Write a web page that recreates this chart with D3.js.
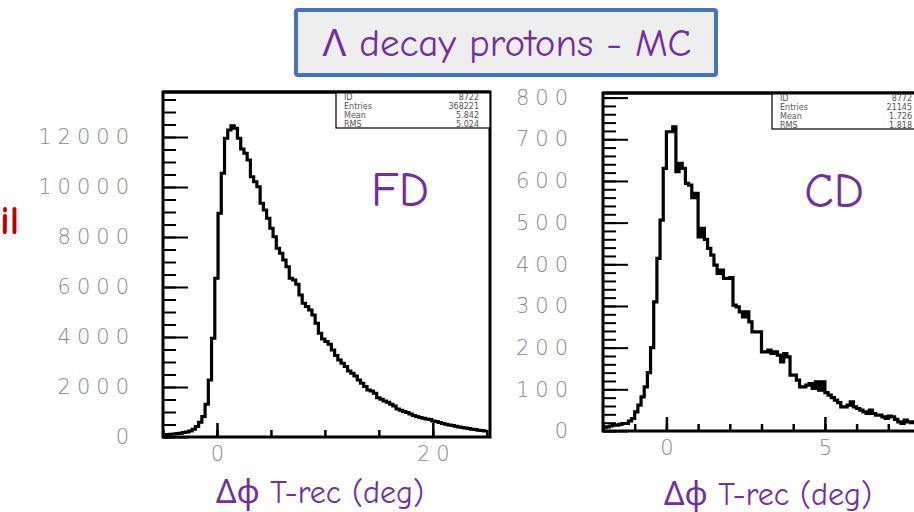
<!DOCTYPE html>
<html><head><meta charset="utf-8">
<script src="https://cdn.jsdelivr.net/npm/d3@7"></script>
<style>
html,body{margin:0;padding:0;background:#fff;}
svg{display:block;}
</style></head>
<body>
<svg id="c" width="914" height="512"></svg>
<script>
// ---------- data ----------
const title = "\u039B decay protons - MC";
const xTitle = "\u0394\u03D5 T-rec (deg)";
const sideText = "il";

// FD histogram: 100 bins from -5 to 25
const fdRange = [-5, 25];
const fdCounts = [80,100,110,120,140,150,180,200,240,310,
  420,590,820,1310,2280,3950,6350,8950,10550,11950,
  12280,12450,12350,11950,11520,11350,11080,10410,10210,10010,
  9350,9080,8750,8350,8010,7550,7350,7080,6810,6350,
  6280,6110,5680,5350,5220,5080,4880,4550,4150,3920,
  3820,3710,3480,3260,3080,2950,2820,2640,2550,2440,
  2280,2150,2020,1880,1840,1750,1570,1510,1440,1390,
  1310,1240,1120,1070,1020,980,920,860,820,780,
  750,720,700,640,620,580,540,510,480,460,
  430,400,380,360,340,310,300,270,260,240];
const fdYTicks = [0,2000,4000,6000,8000,10000,12000];
const fdXTicks = [0,20];
const fdStats = [["ID","8722"],["Entries","368221"],["Mean","5.842"],["RMS","5.024"]];

// CD histogram: 100 bins from -2 to 8
const cdRange = [-2, 8];
const cdCounts = [8,10,12,14,14,16,18,18,24,30,
  46,62,82,106,140,200,310,414,506,630,
  718,718,730,622,642,630,594,590,560,570,
  466,486,460,438,422,398,378,386,366,366,
  368,302,298,286,274,286,262,238,238,238,
  190,190,194,186,190,182,166,186,178,134,
  134,122,106,106,110,114,102,118,98,118,
  92,86,80,74,68,58,58,62,70,58,
  54,50,46,42,50,42,38,38,34,30,
  36,34,28,22,18,26,22,20,22,20];
const cdYTicks = [0,100,200,300,400,500,600,700,800];
const cdXTicks = [0,5];
const cdStats = [["ID","8772"],["Entries","21145"],["Mean","1.726"],["RMS","1.818"]];

const panelLabels = ["FD","CD"];

// ---------- drawing ----------
const svg = d3.select("#c");
const purple = "#7030A0";
const handFont = "'Comic Sans MS','Comic Neue','Noto Sans',sans-serif";
const tickFont = "'DejaVu Sans',sans-serif";
const LS = 6; // letter spacing of tick labels

// title box
svg.append("rect").attr("x",296).attr("y",10).attr("width",420).attr("height",65)
  .attr("fill","#eeeeee").attr("stroke","#4472C4").attr("stroke-width",4).attr("rx",2);
svg.append("text").attr("x",507).attr("y",56).attr("text-anchor","middle")
  .attr("font-family",handFont).attr("font-size",39).attr("fill",purple).text(title);

// red cut-off text at left
svg.append("text").attr("x",0).attr("y",234).attr("text-anchor","start")
  .attr("font-family",handFont).attr("font-size",40).attr("font-weight","bold")
  .attr("fill","#C00000").text(sideText);

function panel(cfg){
  const {counts, range, xDom, xPix, yDom, yPix, yTicks, yMinorStep, xTicks, xMinorStep,
         stats, statBox, label, labelPos, titlePos, xLabelY, yLabelRight, clipId} = cfg;
  const x = d3.scaleLinear().domain(xDom).range(xPix);
  const y = d3.scaleLinear().domain(yDom).range(yPix);
  const g = svg.append("g");
  const left = xPix[0], right = xPix[1], top = yPix[1], bottom = yPix[0];

  g.append("clipPath").attr("id",clipId).append("rect")
    .attr("x",left).attr("y",top).attr("width",right-left).attr("height",bottom-top);

  // histogram
  const nb = counts.length, bw = (range[1]-range[0])/nb;
  const pts = counts.map((c,i)=>[range[0]+i*bw, c]);
  pts.push([range[1], counts[nb-1]]);
  const line = d3.line().x(d=>x(d[0])).y(d=>y(d[1])).curve(d3.curveStepAfter);
  g.append("path").attr("d",line(pts)).attr("fill","none").attr("stroke","#000")
    .attr("stroke-width",3.2).attr("clip-path",`url(#${clipId})`);

  // y axis ticks
  const yMinor = d3.range(yDom[0], yDom[1], yMinorStep);
  g.append("g").attr("transform",`translate(${left},0)`)
    .call(d3.axisRight(y).tickValues(yMinor).tickSize(13).tickFormat(""))
    .call(s=>{s.select(".domain").remove(); s.selectAll("line").attr("stroke","#000").attr("stroke-width",2);});
  g.append("g").attr("transform",`translate(${left},0)`)
    .call(d3.axisRight(y).tickValues(yTicks).tickSize(25).tickFormat(""))
    .call(s=>{s.select(".domain").remove(); s.selectAll("line").attr("stroke","#000").attr("stroke-width",2);});
  // y labels
  g.append("g").attr("transform",`translate(${yLabelRight+LS},0)`)
    .call(d3.axisLeft(y).tickValues(yTicks).tickSize(0).tickPadding(0).tickFormat(d3.format("d")))
    .call(s=>{s.select(".domain").remove();
      s.selectAll("text").attr("font-family",tickFont).attr("font-weight",200)
       .attr("font-size",21).attr("letter-spacing",LS).attr("fill","#8a8a8a");});

  // x axis ticks
  const xMinor = d3.range(Math.ceil(xDom[0]/xMinorStep)*xMinorStep, xDom[1], xMinorStep);
  g.append("g").attr("transform",`translate(0,${bottom})`)
    .call(d3.axisTop(x).tickValues(xMinor).tickSize(7).tickFormat(""))
    .call(s=>{s.select(".domain").remove(); s.selectAll("line").attr("stroke","#000").attr("stroke-width",2.5);});
  g.append("g").attr("transform",`translate(0,${bottom})`)
    .call(d3.axisTop(x).tickValues(xTicks).tickSize(14).tickFormat(""))
    .call(s=>{s.select(".domain").remove(); s.selectAll("line").attr("stroke","#000").attr("stroke-width",2.5);});
  g.append("g").attr("transform",`translate(${LS/2},${xLabelY})`)
    .call(d3.axisBottom(x).tickValues(xTicks).tickSize(0).tickPadding(0).tickFormat(d3.format("d")))
    .call(s=>{s.select(".domain").remove();
      s.selectAll("text").attr("font-family",tickFont).attr("font-weight",200)
       .attr("font-size",21).attr("letter-spacing",LS).attr("fill","#8a8a8a");});

  // frame
  g.append("rect").attr("x",left).attr("y",top).attr("width",right-left).attr("height",bottom-top)
    .attr("fill","none").attr("stroke","#000").attr("stroke-width",3);

  // stats box
  g.append("rect").attr("x",statBox[0]).attr("y",top).attr("width",statBox[1]-statBox[0])
    .attr("height",statBox[2]-top).attr("fill","#fff").attr("stroke","#000").attr("stroke-width",1.2);
  g.append("line").attr("x1",left).attr("x2",right).attr("y1",top).attr("y2",top)
    .attr("stroke","#000").attr("stroke-width",3);
  stats.forEach((r,i)=>{
    const yy = top + 7.5 + i*9.3;
    g.append("text").attr("x",statBox[0]+8).attr("y",yy).attr("font-family","'DejaVu Sans',sans-serif")
      .attr("font-size",8).attr("fill","#555").text(r[0]);
    g.append("text").attr("x",statBox[3]).attr("y",yy).attr("text-anchor","end")
      .attr("font-family","'DejaVu Sans',sans-serif").attr("font-size",8).attr("fill","#555").text(r[1]);
  });

  // panel label
  svg.append("text").attr("x",labelPos[0]).attr("y",labelPos[1]).attr("text-anchor","middle")
    .attr("font-family",handFont).attr("font-size",48).attr("fill",purple).text(label);
  // x title
  svg.append("text").attr("x",titlePos[0]).attr("y",titlePos[1]).attr("text-anchor","middle")
    .attr("font-family",handFont).attr("font-size",32).attr("fill",purple).text(xTitle);
}

panel({counts:fdCounts, range:fdRange, xDom:[-5,25.3], xPix:[163,490], yDom:[0,13800], yPix:[437,92],
  yTicks:fdYTicks, yMinorStep:500, xTicks:fdXTicks, xMinorStep:5, stats:fdStats,
  statBox:[336,490,128,479], label:panelLabels[0], labelPos:[400,206], titlePos:[320,503],
  xLabelY:446, yLabelRight:129, clipId:"clipFD"});

panel({counts:cdCounts, range:cdRange, xDom:[-2,8], xPix:[603,920], yDom:[0,811], yPix:[431,93],
  yTicks:cdYTicks, yMinorStep:20, xTicks:cdXTicks, xMinorStep:1, stats:cdStats,
  statBox:[772,920,129,912], label:panelLabels[1], labelPos:[834,207], titlePos:[768,505],
  xLabelY:440, yLabelRight:568, clipId:"clipCD"});
</script>
</body></html>
